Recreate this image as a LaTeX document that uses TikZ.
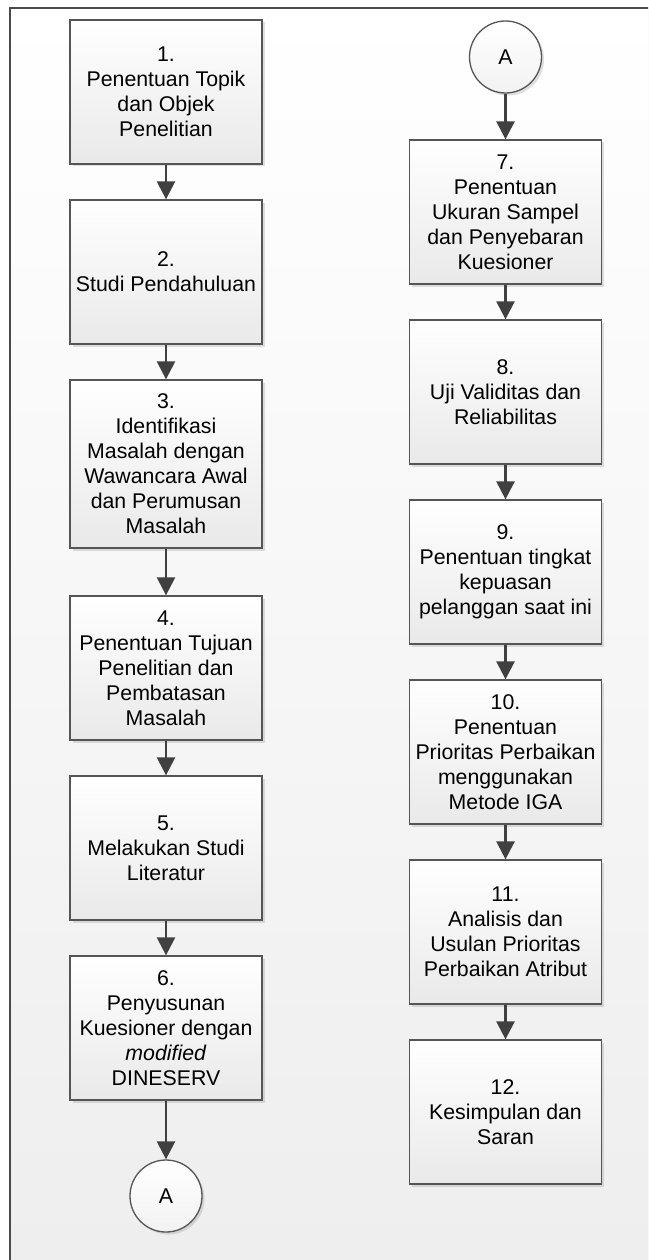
\documentclass[tikz,border=0pt]{standalone}
\usepackage{fontspec}
\setmainfont{Liberation Sans}
\usetikzlibrary{arrows.meta,shadows}
\definecolor{edgegray}{HTML}{555555}
\definecolor{arrowgray}{HTML}{404040}
\definecolor{framegray}{HTML}{4A4A4A}
\definecolor{boxbottom}{HTML}{E9E9E9}
\definecolor{bgbottom}{HTML}{EEEEEE}
\definecolor{txt}{HTML}{000000}
\tikzset{
  stepbox/.style={draw=edgegray, line width=1.3pt, rectangle, top color=white, bottom color=boxbottom,
    minimum width=192pt, inner sep=0pt, align=center, text=txt,
    font=\fontsize{21.3}{25}\selectfont,
    drop shadow={shadow xshift=2.5pt, shadow yshift=-2.5pt, opacity=0.25, fill=gray}},
  connector/.style={draw=edgegray, line width=1.3pt, circle, top color=white, bottom color=boxbottom!60,
    minimum size=72pt, inner sep=0pt, text=txt, font=\fontsize{21.3}{25}\selectfont,
    drop shadow={shadow xshift=2.5pt, shadow yshift=-2.5pt, opacity=0.25, fill=gray}},
  flow/.style={draw=arrowgray, line width=2.5pt, -{Triangle[width=18pt,length=18pt]}}
}
\begin{document}
\begin{tikzpicture}[x=1pt,y=-1pt]
\clip (0,0) rectangle (648,1260);
\useasboundingbox (0,0) rectangle (648,1260);
% background frame
\fill[gray!35] (12,10) rectangle (700,1300);
\shade[top color=white, bottom color=bgbottom] (10,8) rectangle (700,1262);
\draw[framegray, line width=1.5pt] (10,1300) -- (10,8) -- (700,8);
% left column
\node[stepbox, minimum height=144pt] (b1) at (166,92) {1.\\Penentuan Topik\\dan Objek\\Penelitian};
\node[stepbox, minimum height=144pt] (b2) at (166,272) {2.\\Studi Pendahuluan};
\node[stepbox, minimum height=168pt] (b3) at (166,464) {3.\\Identifikasi\\Masalah dengan\\Wawancara Awal\\dan Perumusan\\Masalah};
\node[stepbox, minimum height=144pt] (b4) at (166,668) {4.\\Penentuan Tujuan\\Penelitian dan\\Pembatasan\\Masalah};
\node[stepbox, minimum height=144pt] (b5) at (166,848) {5.\\Melakukan Studi\\Literatur};
\node[stepbox, minimum height=144pt] (b6) at (166,1028) {6.\\Penyusunan\\Kuesioner dengan\\\textit{modified}\\DINESERV};
\node[connector] (a1) at (166,1196) {A};
% right column
\node[connector] (a2) at (505.5,57) {A};
\node[stepbox, minimum height=144pt] (b7) at (505.5,212) {7.\\Penentuan\\Ukuran Sampel\\dan Penyebaran\\Kuesioner};
\node[stepbox, minimum height=144pt] (b8) at (505.5,392) {8.\\Uji Validitas dan\\Reliabilitas};
\node[stepbox, minimum height=144pt] (b9) at (505.5,572) {9.\\Penentuan tingkat\\kepuasan\\pelanggan saat ini};
\node[stepbox, minimum height=144pt] (b10) at (505.5,752) {10.\\Penentuan\\Prioritas Perbaikan\\menggunakan\\Metode IGA};
\node[stepbox, minimum height=144pt] (b11) at (505.5,932) {11.\\Analisis dan\\Usulan Prioritas\\Perbaikan Atribut};
\node[stepbox, minimum height=144pt] (b12) at (505.5,1112) {12.\\Kesimpulan dan\\Saran};
% connectors
\draw[flow] (b1.south) -- (b2.north);
\draw[flow] (b2.south) -- (b3.north);
\draw[flow] (b3.south) -- (b4.north);
\draw[flow] (b4.south) -- (b5.north);
\draw[flow] (b5.south) -- (b6.north);
\draw[flow] (b6.south) -- (a1.north);
\draw[flow] (a2.south) -- (b7.north);
\draw[flow] (b7.south) -- (b8.north);
\draw[flow] (b8.south) -- (b9.north);
\draw[flow] (b9.south) -- (b10.north);
\draw[flow] (b10.south) -- (b11.north);
\draw[flow] (b11.south) -- (b12.north);
\end{tikzpicture}
\end{document}
